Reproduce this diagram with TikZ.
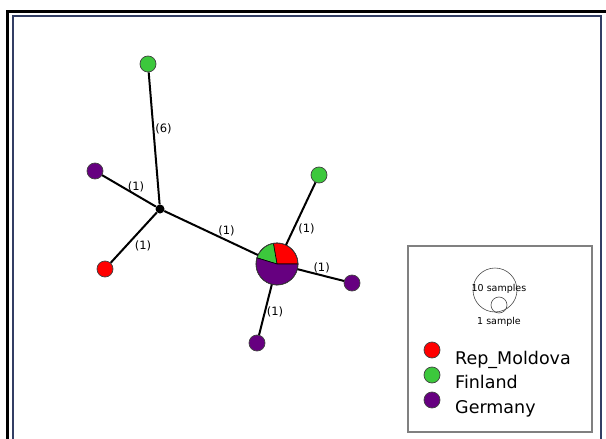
\documentclass[tikz,border=0pt]{standalone}
\usepackage{fontspec}
\setmainfont{DejaVu Sans}
\usepackage{tikz}

\definecolor{moldova}{RGB}{255,0,0}
\definecolor{finland}{RGB}{60,200,60}
\definecolor{germany}{RGB}{102,0,128}
\definecolor{frameblue}{RGB}{50,62,100}

\begin{document}
\begin{tikzpicture}[x = 1pt, y = -1pt,
        hap/.style = {circle, draw = black!75, line width = 0.7pt, minimum size = 16pt, inner sep = 0pt},
        edge/.style = {line width = 2pt},
        lbl/.style = {font = \fontsize{11.5}{13}\selectfont, inner sep = 1pt}]
    \useasboundingbox (0, 0) rectangle (606, 439);

    % window frame
    \draw[line width = 3pt] (7.5, 439) -- (7.5, 11.5) -- (606, 11.5);
    \draw[frameblue, line width = 2pt] (12.5, 439) -- (12.5, 15.5) -- (600.5, 15.5) -- (600.5, 439);

    % haplotypes
    \node[circle, fill = black, minimum size = 9pt, inner sep = 0pt] (hub) at (160, 209) {};
    \node[hap, fill = finland] (fin1) at (148, 64) {};
    \node[hap, fill = germany] (ger1) at (95, 171) {};
    \node[hap, fill = moldova] (mol) at (105, 269) {};
    \node[hap, fill = finland] (fin2) at (319, 175) {};
    \node[hap, fill = germany] (ger2) at (352, 283) {};
    \node[hap, fill = germany] (ger3) at (257, 343) {};

    \node[circle, minimum size = 42pt, inner sep = 0pt] (pie) at (277, 264) {};
    \begin{scope}[draw = black, line width = 0.6pt]
        \filldraw[fill = moldova] (pie.center) -- +(0:21pt) arc[start angle = 0, end angle = 100, radius = 21pt] -- cycle;
        \filldraw[fill = finland] (pie.center) -- +(100:21pt) arc[start angle = 100, end angle = 163, radius = 21pt] -- cycle;
        \filldraw[fill = germany] (pie.center) -- +(163:21pt) arc[start angle = 163, end angle = 360, radius = 21pt] -- cycle;
        \draw[black!75, line width = 0.7pt] (pie.center) circle[radius = 21pt];
    \end{scope}

    % mutations
    \draw[edge] (hub) -- (fin1) node[lbl, pos = 0.57, right] {(6)};
    \draw[edge] (hub) -- (ger1) node[lbl, pos = 0.37, above = 1pt] {(1)};
    \draw[edge] (hub) -- (mol) node[lbl, pos = 0.52, below right = 0pt] {(1)};
    \draw[edge] (hub) -- (pie) node[lbl, pos = 0.665, above = 2pt] {(1)};
    \draw[edge] (pie) -- (fin2) node[lbl, pos = 0.25, right = 3pt] {(1)};
    \draw[edge] (pie) -- (ger2) node[lbl, pos = 0.52, above] {(1)};
    \draw[edge] (pie) -- (ger3) node[lbl, pos = 0.55, right] {(1)};

    % legend
    \draw[black!50, line width = 1.5pt] (408, 246) rectangle (592, 432);
    \draw[black!70, line width = 0.6pt] (495, 290) circle[radius = 22pt];
    \draw[black!70, line width = 0.6pt] (499, 305) circle[radius = 8pt];
    \path (499, 289) node[font = \fontsize{9.5}{11}\selectfont, inner sep = 0pt] (big) {10 samples};
    \path (499, 322) node[font = \fontsize{9.5}{11}\selectfont, inner sep = 0pt] (small) {1 sample};

    \node[hap, fill = moldova] (keymol) at (432, 350) {};
    \node[hap, fill = finland] (keyfin) at (432, 375) {};
    \node[hap, fill = germany] (keyger) at (432, 400) {};
    \begin{scope}[font = \fontsize{17.5}{20}\selectfont, inner sep = 0pt, anchor = base west]
        \path (455, 364) node (txtmol) {Rep\_Moldova};
        \path (455, 388) node (txtfin) {Finland};
        \path (455, 413) node (txtger) {Germany};
    \end{scope}
\end{tikzpicture}
\end{document}
